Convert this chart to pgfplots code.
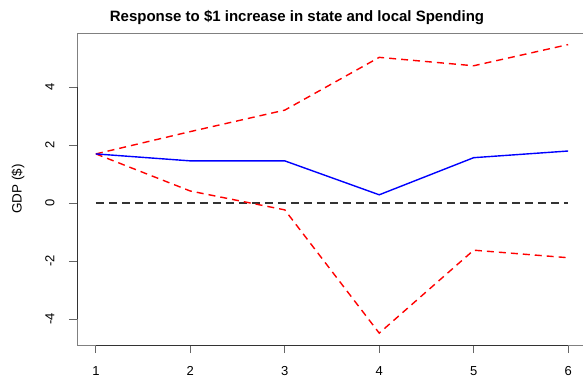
\documentclass[border=0pt]{standalone}
\usepackage{pgfplots}
\pgfplotsset{compat=1.18}
\usepackage{fontspec}
\setmainfont{Liberation Sans}
\begin{document}
\begin{tikzpicture}[x=1pt,y=1pt]
\begin{axis}[
  at={(0pt,0pt)}, anchor=south west,
  scale only axis, width=510pt, height=312pt,
  xmin=0.8, xmax=6.2, ymin=-4.9, ymax=5.86,
  axis line style={black!50, line width=0.8pt},
  axis x line*=box, axis y line*=box,
  xtick={1,2,3,4,5,6}, ytick={-4,-2,0,2,4},
  xtick pos=bottom, ytick pos=left,
  tick align=outside, major tick length=8pt,
  tick style={black!60, line width=0.8pt},
  /pgf/number format/assume math mode=true,
  ticklabel style={font=\fontsize{13}{15}\selectfont},
  yticklabel style={rotate=90, anchor=south, yshift=11pt},
  xticklabel style={yshift=-10pt},
  clip=false,
]
\draw[black!80, line width=0.8pt] (axis cs:1,-4.9) -- (axis cs:6,-4.9);
\draw[black!80, line width=0.8pt] (axis cs:0.8,-4) -- (axis cs:0.8,4);
\addplot[black!80, line width=1.6pt, dash pattern=on 8pt off 5pt] coordinates {(1,0) (6,0)};
\addplot[red, line width=1.4pt, dash pattern=on 7pt off 5pt] coordinates {(1,1.69) (2,2.46) (3,3.2) (4,5.02) (5,4.73) (6,5.46)};
\addplot[red, line width=1.4pt, dash pattern=on 7pt off 5pt] coordinates {(1,1.69) (2,0.41) (3,-0.24) (4,-4.49) (5,-1.63) (6,-1.89)};
\addplot[blue, line width=1.4pt] coordinates {(1,1.69) (2,1.45) (3,1.45) (4,0.28) (5,1.56) (6,1.79)};
\end{axis}
\node[font=\fontsize{15}{17}\selectfont\bfseries] at (220pt,327pt) {Response to \$1 increase in state and local Spending};
\node[font=\fontsize{13.5}{16}\selectfont, rotate=90] at (-59pt,156pt) {GDP (\$)};
\pgfresetboundingbox
\useasboundingbox (-77pt,-33pt) rectangle (506pt,345pt);
\end{tikzpicture}
\end{document}
